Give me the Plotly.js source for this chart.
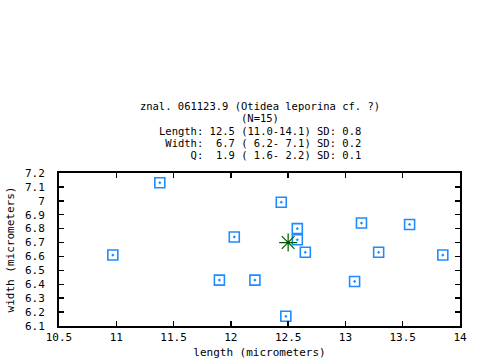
<!DOCTYPE html>
<html>
<head>
<meta charset="utf-8">
<script src="https://cdn.plot.ly/plotly-3.0.1.min.js"></script>
<style>html,body{margin:0;padding:0;background:#fff;}#chart{width:480px;height:360px;}</style>
</head>
<body>
<div id="chart"></div>
<script>
const lengthVals = [11.38, 12.44, 12.58, 12.58, 12.65, 13.14, 13.56, 13.29, 13.85, 10.97, 12.03, 11.90, 12.21, 13.08, 12.48];
const widthVals  = [7.13, 6.99, 6.80, 6.72, 6.63, 6.84, 6.83, 6.63, 6.61, 6.61, 6.74, 6.43, 6.43, 6.42, 6.17];
const meanLength = [12.5];
const meanWidth = [6.7];
const xTickVals = [10.5, 11, 11.5, 12, 12.5, 13, 13.5, 14];
const xTickText = ["10.5", "11", "11.5", "12", "12.5", "13", "13.5", "14"];
const yTickVals = [6.1, 6.2, 6.3, 6.4, 6.5, 6.6, 6.7, 6.8, 6.9, 7.0, 7.1, 7.2];
const yTickText = ["6.1", "6.2", "6.3", "6.4", "6.5", "6.6", "6.7", "6.8", "6.9", "7", "7.1", "7.2"];
const titleLines = [
  "znal. 061123.9 (Otidea leporina cf. ?)",
  "(N=15)",
  "Length: 12.5 (11.0-14.1) SD: 0.8",
  " Width:  6.7 ( 6.2- 7.1) SD: 0.2",
  "     Q:  1.9 ( 1.6- 2.2) SD: 0.1"
];

const FONT = "DejaVu Sans Mono, monospace";
const TSIZE = 10.5;
const nb = s => s.replace(/ /g, "\u00a0");

const traces = [
  {
    x: lengthVals, y: widthVals, type: "scatter", mode: "markers",
    marker: {symbol: "square-open-dot", size: 10, color: "#1e8cff", line: {width: 1.6, color: "#1e8cff"}},
    hoverinfo: "x+y", showlegend: false
  },
  {
    x: meanLength, y: meanWidth, type: "scatter", mode: "markers",
    marker: {symbol: "asterisk-open", size: 15, color: "#005a00", line: {width: 1.2, color: "#005a00"}},
    showlegend: false
  }
];

const lineYs = [106.2, 118.4, 130.6, 142.8, 155];
const annotations = titleLines.slice(1).map((t, i) => ({
  text: nb(t), xref: "paper", yref: "paper",
  x: 0.5, y: 1 + (173 - lineYs[i + 1]) / 153, xanchor: "center", yanchor: "middle",
  showarrow: false, font: {family: FONT, size: TSIZE, color: "#000"}
}));

const axisCommon = {
  showgrid: false, zeroline: false, showline: true, linecolor: "#000", linewidth: 2,
  mirror: "ticks", ticks: "inside", ticklen: 5, tickwidth: 1.5, tickcolor: "#000",
  tickfont: {family: FONT, size: 11, color: "#000"}
};

const layout = {
  width: 480, height: 360,
  margin: {l: 59, r: 20, t: 173, b: 34},
  paper_bgcolor: "#fff", plot_bgcolor: "#fff",
  title: {text: nb(titleLines[0]), x: 260 / 480, xanchor: "center", y: 1 - lineYs[0] / 360, yanchor: "middle",
          font: {family: FONT, size: TSIZE, color: "#000"}},
  xaxis: Object.assign({}, axisCommon, {
    range: [10.5, 14], tickmode: "array", tickvals: xTickVals, ticktext: xTickText,
    title: {text: "length (micrometers)", font: {family: FONT, size: 11, color: "#000"}, standoff: 5}
  }),
  yaxis: Object.assign({}, axisCommon, {
    range: [6.1, 7.2], tickmode: "array", tickvals: yTickVals, ticktext: yTickText,
    ticklabelstandoff: 10,
    title: {text: "width (micrometers)", font: {family: FONT, size: 11, color: "#000"}, standoff: 8}
  }),
  annotations: annotations
};

Plotly.newPlot("chart", traces, layout, {displayModeBar: false, staticPlot: true});
</script>
</body>
</html>
